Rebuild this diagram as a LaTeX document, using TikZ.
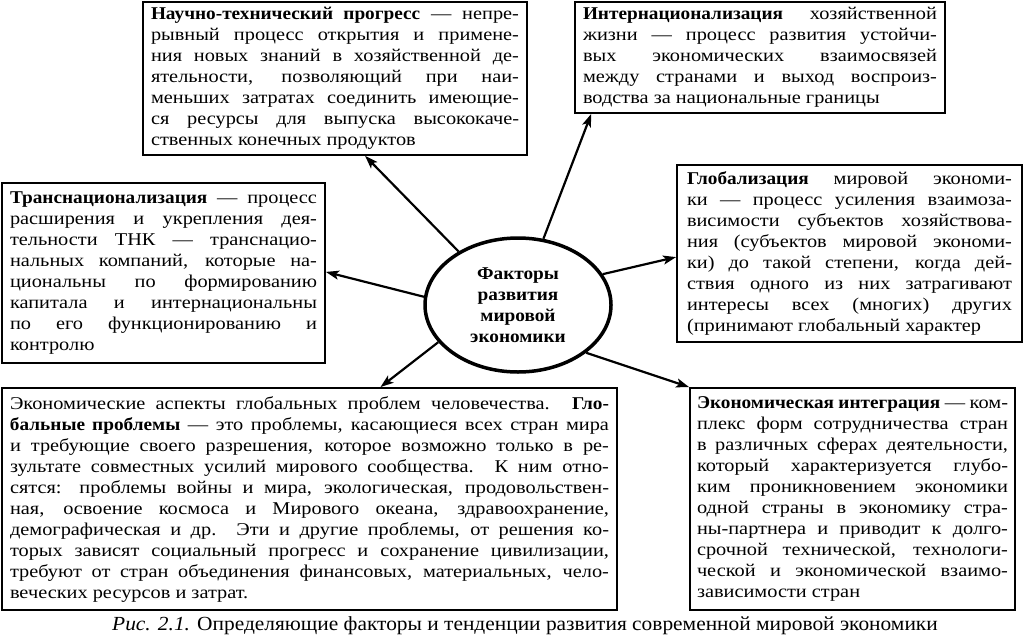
\documentclass[tikz,border=0pt]{standalone}
\usepackage{fontspec}
\setmainfont{Liberation Serif}[FakeStretch=1.13, BoldFeatures={FakeStretch=1.07}]
\newfontfamily\capfont{Liberation Serif}[FakeStretch=1.07]
\usetikzlibrary{shapes.geometric,arrows.meta,calc}
\newcommand\jline[1]{\hbox to\hsize{\spaceskip=0pt\xspaceskip=0pt #1}}
\newcommand\lline[1]{\hbox to\hsize{\spaceskip=0pt\xspaceskip=0pt #1\hfil}}
\tikzset{
  txtbox/.style={draw, line width=1.8pt, rectangle, inner xsep=8pt, inner ysep=0pt,
    font=\fontsize{18}{21}\selectfont, align=justify},
  arr/.style={line width=2.2pt, -{Stealth[length=13pt,width=9pt,inset=3pt]}},
}
\begin{document}
\begin{tikzpicture}[x=1pt,y=-1pt]
\useasboundingbox[fill=white] (0,0) rectangle (1024,640);

\node[txtbox, text width=368pt, minimum height=153pt] (ntp) at (335,78.5) {%
\jline{\textbf{Научно-технический прогресс} — непре-}
\jline{рывный процесс открытия и примене-}
\jline{ния новых знаний в хозяйственной де-}
\jline{ятельности, позволяющий при наи-}
\jline{меньших затратах соединить имеющие-}
\jline{ся ресурсы для выпуска высококаче-}
\lline{ственных конечных продуктов}};

\node[txtbox, text width=354pt, minimum height=111pt] (intl) at (760,57.5) {%
\jline{\textbf{Интернационализация} хозяйственной}
\jline{жизни — процесс развития устойчи-}
\jline{вых экономических взаимосвязей}
\jline{между странами и выход воспроиз-}
\lline{водства за национальные границы}};

\node[txtbox, text width=307pt, minimum height=180pt] (trans) at (163.5,273) {%
\jline{\textbf{Транснационализация} — процесс}
\jline{расширения и укрепления дея-}
\jline{тельности ТНК — транснацио-}
\jline{нальных компаний, которые на-}
\jline{циональны по формированию}
\jline{капитала и интернациональны}
\jline{по его функционированию и}
\lline{контролю}};

\node[txtbox, inner xsep=10pt, text width=325pt, minimum height=177pt] (glob) at (849.5,253.5) {%
\jline{\textbf{Глобализация} мировой экономи-}
\jline{ки — процесс усиления взаимоза-}
\jline{висимости субъектов хозяйствова-}
\jline{ния (субъектов мировой экономи-}
\jline{ки) до такой степени, когда дей-}
\jline{ствия одного из них затрагивают}
\jline{интересы всех (многих) других}
\lline{(принимают глобальный характер}};

\node[txtbox, text width=599pt, minimum height=222pt] (bl) at (309.5,499) {%
\jline{Экономические аспекты глобальных проблем человечества. \textbf{Гло-}}
\jline{\textbf{бальные проблемы} — это проблемы, касающиеся всех стран мира}
\jline{и требующие своего разрешения, которое возможно только в ре-}
\jline{зультате совместных усилий мирового сообщества. К ним отно-}
\jline{сятся: проблемы войны и мира, экологическая, продовольствен-}
\jline{ная, освоение космоса и Мирового океана, здравоохранение,}
\jline{демографическая и др. Эти и другие проблемы, от решения ко-}
\jline{торых зависят социальный прогресс и сохранение цивилизации,}
\jline{требуют от стран объединения финансовых, материальных, чело-}
\lline{веческих ресурсов и затрат.}};

\node[txtbox, inner xsep=7pt, text width=311pt, minimum height=222pt] (br) at (852.5,499) {%
\jline{\textbf{Экономическая интеграция} — ком-}
\jline{плекс форм сотрудничества стран}
\jline{в различных сферах деятельности,}
\jline{который характеризуется глубо-}
\jline{ким проникновением экономики}
\jline{одной страны в экономику стра-}
\jline{ны-партнера и приводит к долго-}
\jline{срочной технической, технологи-}
\jline{ческой и экономической взаимо-}
\lline{зависимости стран}};

\node[ellipse, draw, line width=3.5pt, minimum width=186pt, minimum height=134pt,
  inner sep=0pt, align=center, font=\fontsize{18}{21}\selectfont\bfseries] (ell) at (518,305)
  {Факторы\\развития\\мировой\\экономики};

\coordinate (t1) at ($(ntp.south west)!0.578!(ntp.south east)$);
\coordinate (t2) at ($(intl.south west)!0.046!(intl.south east)$);
\coordinate (t3) at ($(trans.north east)!0.494!(trans.south east)$);
\coordinate (t4) at ($(glob.north west)!0.52!(glob.south west)$);
\coordinate (t5) at ($(bl.north west)!0.615!(bl.north east)$);
\coordinate (t6) at (br.north west);

\draw[arr] (ell.138) -- (t1);
\draw[arr] (ell.69) -- (t2);
\draw[arr] (ell.175) -- (t3);
\draw[arr] (ell.20) -- (t4);
\draw[arr] (ell.205) -- (t5);
\draw[arr] (ell.325) -- (t6);

\node[font=\capfont\fontsize{20}{24}\selectfont, inner sep=0pt] (cap) at (525,626)
  {\textit{Рис. 2.1.} Определяющие факторы и тенденции развития современной мировой экономики};
\end{tikzpicture}
\end{document}
